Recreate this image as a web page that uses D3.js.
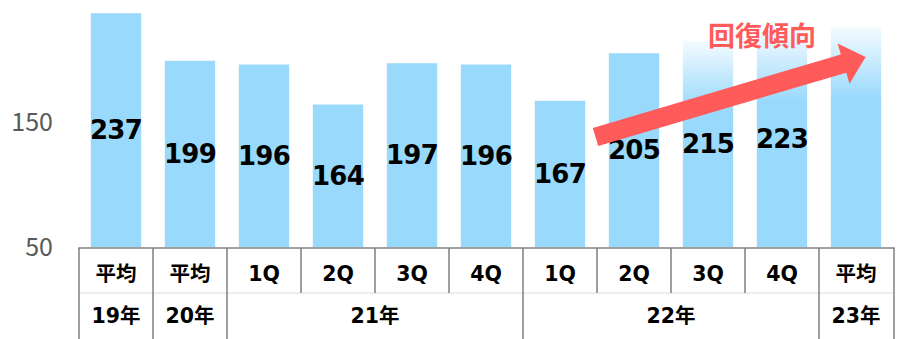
<!DOCTYPE html>
<html>
<head>
<meta charset="utf-8">
<script src="https://cdn.jsdelivr.net/npm/d3@7"></script>
<style>
  html, body { margin: 0; padding: 0; background: #fff; }
  svg { display: block; }
</style>
</head>
<body>
<svg id="chart" width="904" height="339"></svg>
<script>
// Periods: row 1 of the table under the axis, row 2 groups them by year
const periodLabels = ["平均", "平均", "1Q", "2Q", "3Q", "4Q", "1Q", "2Q", "3Q", "4Q", "平均"];
const yearLabels = ["19年", "20年", "21年", "21年", "21年", "21年", "22年", "22年", "22年", "22年", "23年"];
const values = [237, 199, 196, 164, 197, 196, 167, 205, 215, 223, 226];
const yTicks = [50, 150];
const trendLabel = "回復傾向";
// Indices of bars drawn with a fading top, and bars without a value label
const fadedBars = [8, 9, 10];
const unlabelledBars = [10];
// Trend arrow ends, given as [bar index, position within step, value]
const arrowFrom = [6, 0.98, 138];
const arrowTo = [10, 0.63, 202];

const W = 904, H = 339;
const left = 79, right = 893, base = 247;
const blue = "#98D9FC", red = "#FF5B5B", gridGrey = "#7F7F7F";
const fontNum = "'DejaVu Sans', 'Noto Sans CJK JP', sans-serif";
const fontTick = "'Noto Sans CJK JP', 'Noto Sans', sans-serif";

const svg = d3.select("#chart");
const keys = values.map((_, i) => i);

const x = d3.scaleBand().domain(keys).range([left, right])
  .paddingInner(0.32).paddingOuter(0.16);
const step = x.step();
const y = d3.scaleLinear().domain([50, 250]).range([base, base - 250]);

// gradient for the fading bars
const defs = svg.append("defs");
const grad = defs.append("linearGradient").attr("id", "fade")
  .attr("x1", 0).attr("y1", 0).attr("x2", 0).attr("y2", 1);
grad.append("stop").attr("offset", "0%").attr("stop-color", "#F4FBFF");
grad.append("stop").attr("offset", "33%").attr("stop-color", blue);
grad.append("stop").attr("offset", "100%").attr("stop-color", blue);

// bars
svg.append("g").selectAll("rect").data(keys).join("rect")
  .attr("x", i => x(i))
  .attr("y", i => y(values[i]))
  .attr("width", x.bandwidth())
  .attr("height", i => y(50) - y(values[i]))
  .attr("fill", i => fadedBars.includes(i) ? "url(#fade)" : blue);

// value labels centred in each bar
svg.append("g").selectAll("text")
  .data(keys.filter(i => !unlabelledBars.includes(i))).join("text")
  .attr("x", i => x(i) + x.bandwidth() / 2)
  .attr("y", i => (y(values[i]) + y(50)) / 2)
  .attr("text-anchor", "middle")
  .attr("dominant-baseline", "central")
  .attr("font-family", fontNum)
  .attr("font-weight", "bold")
  .attr("font-size", 26)
  .attr("letter-spacing", -0.8)
  .attr("fill", "#000")
  .text(i => values[i]);

// y axis: tick labels only
const yAxis = svg.append("g").attr("transform", `translate(${left},0)`)
  .call(d3.axisLeft(y).tickValues(yTicks).tickSize(0).tickPadding(26));
yAxis.select(".domain").remove();
yAxis.selectAll("text")
  .attr("font-family", fontTick)
  .attr("font-size", 25)
  .attr("fill", "#595959");

// table under the axis
const tableTop = base + 1, rowMid = 293, tableBottom = H;
const table = svg.append("g");
table.append("line")
  .attr("x1", left).attr("x2", right + 1)
  .attr("y1", rowMid).attr("y2", rowMid)
  .attr("stroke", "#DCDCDC").attr("stroke-width", 1);

// year groups built from consecutive equal year labels
const groups = [];
yearLabels.forEach((lab, i) => {
  const g = groups[groups.length - 1];
  if (g && g.label === lab) g.end = i; else groups.push({ label: lab, start: i, end: i });
});
const boundaries = d3.range(keys.length + 1).map(i =>
  i < keys.length ? left + i * step : right + 1);
const groupStarts = new Set(groups.map(g => g.start).concat([keys.length]));

table.selectAll("line.v").data(boundaries).join("line")
  .attr("class", "v")
  .attr("x1", d => d).attr("x2", d => d)
  .attr("y1", tableTop)
  .attr("y2", (d, i) => groupStarts.has(i) ? tableBottom : rowMid)
  .attr("stroke", gridGrey).attr("stroke-width", 1.5);

table.append("line")
  .attr("x1", left - 0.75).attr("x2", right + 1.75)
  .attr("y1", tableTop).attr("y2", tableTop)
  .attr("stroke", gridGrey).attr("stroke-width", 1.5);

table.selectAll("text.p").data(keys).join("text")
  .attr("class", "p")
  .attr("x", i => left + (i + 0.5) * step)
  .attr("y", 274)
  .attr("text-anchor", "middle")
  .attr("dominant-baseline", "central")
  .attr("font-family", fontNum)
  .attr("font-weight", "bold")
  .attr("font-size", 20.5)
  .text(i => periodLabels[i]);

table.selectAll("text.yr").data(groups).join("text")
  .attr("class", "yr")
  .attr("x", g => left + ((g.start + g.end + 1) / 2) * step)
  .attr("y", 316)
  .attr("text-anchor", "middle")
  .attr("dominant-baseline", "central")
  .attr("font-family", fontNum)
  .attr("font-weight", "bold")
  .attr("font-size", 20.5)
  .text(g => g.label);

// trend arrow
const pt = a => [left + (a[0] + a[1]) * step, y(a[2])];
const [sx, sy] = pt(arrowFrom), [tx, ty] = pt(arrowTo);
const len = Math.hypot(tx - sx, ty - sy);
const ux = (tx - sx) / len, uy = (ty - sy) / len;
const nx = -uy, ny = ux;
const shaftHalf = 9.5, headHalf = 21, headLen = 23;
const bx = tx - ux * headLen, by = ty - uy * headLen;
const arrowPts = [
  [sx + nx * shaftHalf, sy + ny * shaftHalf],
  [bx + nx * shaftHalf, by + ny * shaftHalf],
  [bx + nx * headHalf, by + ny * headHalf],
  [tx, ty],
  [bx - nx * headHalf, by - ny * headHalf],
  [bx - nx * shaftHalf, by - ny * shaftHalf],
  [sx - nx * shaftHalf, sy - ny * shaftHalf]
];
svg.append("path")
  .attr("d", d3.line()(arrowPts) + "Z")
  .attr("fill", red);

svg.append("text")
  .attr("x", left + 9.23 * step)
  .attr("y", 34)
  .attr("text-anchor", "middle")
  .attr("dominant-baseline", "central")
  .attr("font-family", "'Noto Sans CJK JP', sans-serif")
  .attr("font-weight", "bold")
  .attr("font-size", 27)
  .attr("fill", red)
  .text(trendLabel);
</script>
</body>
</html>
